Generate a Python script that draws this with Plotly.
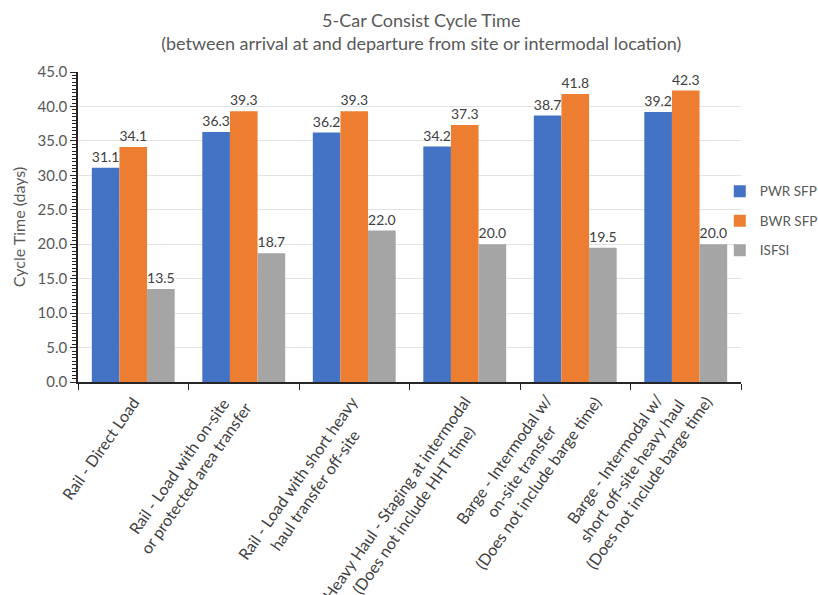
import math
import plotly.graph_objects as go

categories = [
    "Rail - Direct Load",
    "Rail - Load with on-site<br>or protected area transfer",
    "Rail - Load with short heavy<br>haul transfer off-site",
    "Heavy Haul - Staging at intermodal<br>(Does not include HHT time)",
    "Barge - Intermodal w/<br>on-site transfer<br>(Does not include barge time)",
    "Barge - Intermodal w/<br>short off-site heavy haul<br>(Does not include barge time)",
]
pwr_sfp = [31.1, 36.3, 36.2, 34.2, 38.7, 39.2]
bwr_sfp = [34.1, 39.3, 39.3, 37.3, 41.8, 42.3]
isfsi = [13.5, 18.7, 22.0, 20.0, 19.5, 20.0]

series = [
    ("PWR SFP", pwr_sfp, "#4472C4"),
    ("BWR SFP", bwr_sfp, "#ED7D31"),
    ("ISFSI", isfsi, "#A5A5A5"),
]

FONT = "Lato, 'Open Sans', sans-serif"
LABEL_SIZE = 16
LABEL_ANGLE = 55

fig = go.Figure()
for i, (name, vals, color) in enumerate(series):
    fig.add_trace(go.Bar(
        x=categories, y=vals, name=name, marker_color=color,
        marker_line_width=0, legendgroup=f"g{i}",
        text=[f"{v:.1f}" for v in vals], textposition="outside",
        textfont=dict(size=14.5, color="#404040", family=FONT),
        cliponaxis=False,
    ))


def label_shift(label):
    """Offsets that hang a rotated, centre-aligned label block by its inked
    lines (not its full text box) just under the category tick."""
    lines = label.split("<br>")
    cw, lh = 0.47 * LABEL_SIZE, 1.3 * LABEL_SIZE
    c, s = math.cos(math.radians(LABEL_ANGLE)), math.sin(math.radians(LABEL_ANGLE))
    widths = [len(t) * cw for t in lines]
    W, H = max(widths), len(lines) * lh
    rect_right, rect_top = c * W + s * H, -s * W
    ink_right = max(c * (W + w) / 2 + s * (k + 1) * lh for k, w in enumerate(widths))
    ink_top = min(-s * (W + w) / 2 + c * k * lh for k, w in enumerate(widths))
    reach = {1: 13, 2: 14}.get(len(lines), 33)
    return reach + (rect_right - ink_right), (ink_top - rect_top) - 8


for cat in categories:
    dx, dy = label_shift(cat)
    fig.add_annotation(
        x=cat, xref="x", y=0, yref="paper",
        text=cat, showarrow=False, textangle=-LABEL_ANGLE, align="center",
        xanchor="right", yanchor="top", xshift=dx, yshift=dy,
        font=dict(size=LABEL_SIZE, color="#404040", family=FONT),
    )

fig.update_layout(
    width=818, height=595,
    margin=dict(l=78, r=77, t=72, b=213, autoexpand=False),
    paper_bgcolor="white", plot_bgcolor="white",
    barmode="group", bargap=0.25, bargroupgap=0,
    title=dict(
        text="5-Car Consist Cycle Time<br>(between arrival at and departure from site or intermodal location)",
        x=0.515, xanchor="center", y=0.955, yanchor="top",
        font=dict(size=18, color="#595959", family=FONT),
    ),
    font=dict(family=FONT, color="#595959"),
    legend=dict(
        x=0.968, xanchor="left", y=0.665, yanchor="top",
        font=dict(size=13.5, color="#595959", family=FONT),
        tracegroupgap=9, itemwidth=30, bgcolor="rgba(0,0,0,0)",
    ),
    xaxis=dict(
        range=[-0.5, len(categories) - 0.5],
        showticklabels=False,
        showline=True, linecolor="#262626", linewidth=1.5,
        ticks="outside", ticklen=6, tickcolor="#262626",
        tickson="boundaries", automargin=False,
    ),
    yaxis=dict(
        range=[0, 45], dtick=5, tickformat=".1f",
        tickfont=dict(size=15, color="#595959", family=FONT),
        showgrid=True, gridcolor="#E3E3E3", gridwidth=1,
        showline=True, linecolor="#262626", linewidth=1.5,
        ticks="outside", ticklen=6, tickcolor="#262626",
        minor=dict(dtick=0.5, ticks="outside", ticklen=4, tickcolor="#262626", showgrid=False),
        title=dict(text="Cycle Time (days)", font=dict(size=16, color="#595959", family=FONT), standoff=8),
        zeroline=False, automargin=False,
    ),
)

fig.write_html("out.html")
